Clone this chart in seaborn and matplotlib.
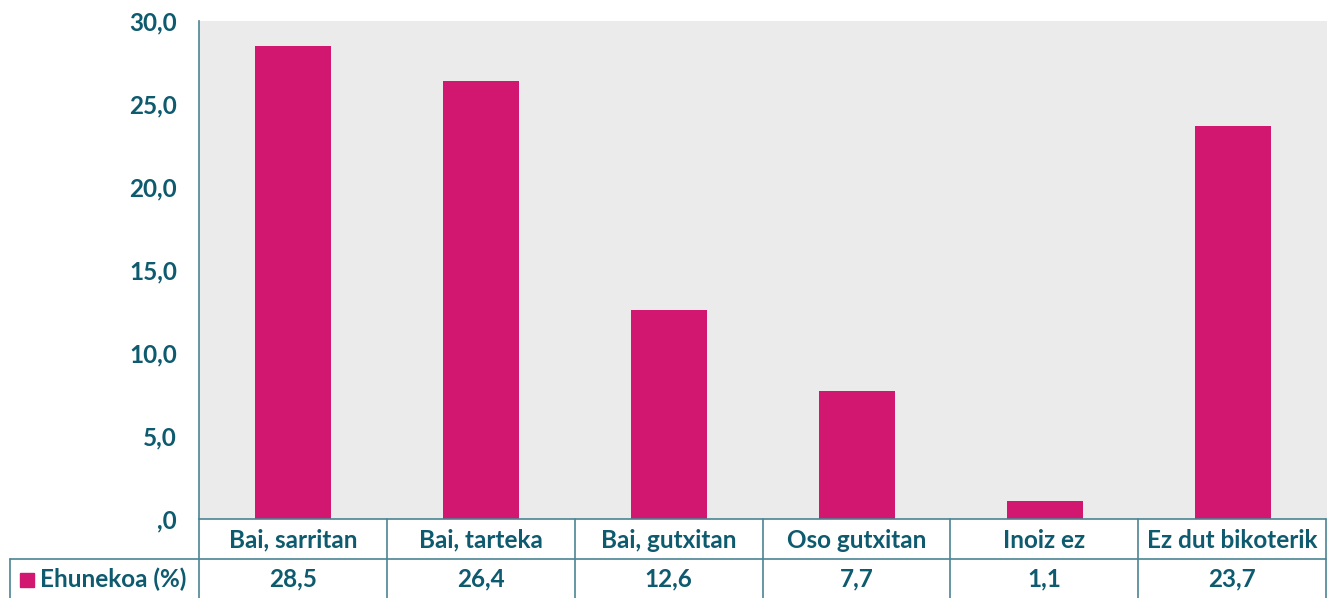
import numpy as np
import matplotlib.pyplot as plt
import seaborn as sns

categories = ['Bai, sarritan', 'Bai, tarteka', 'Bai, gutxitan', 'Oso gutxitan', 'Inoiz ez', 'Ez dut bikoterik']
values = [28.5, 26.4, 12.6, 7.7, 1.1, 23.7]
series_name = 'Ehunekoa (%)'
yticks = [0, 5, 10, 15, 20, 25, 30]

bar_col = '#D1176F'
txt_col = '#0E5A6E'
line_col = '#4A8593'

sns.set_style('white')
plt.rcParams['font.family'] = ['Lato', 'DejaVu Sans']
plt.rcParams['font.weight'] = 'bold'

W, H = 1327, 598
fs = 17.5
fig = plt.figure(figsize=(W / 100, H / 100), dpi=100)
ax = fig.add_axes([199 / W, 79 / H, 1 - 199 / W, (519 - 21) / H])
ax.set_facecolor('#EBEBEB')

sns.barplot(x=categories, y=values, color=bar_col, width=0.4, saturation=1, linewidth=0, ax=ax)
ax.set_xlim(-0.5, len(categories) - 0.5)
ax.set_ylim(0, 30)
ax.set_yticks(yticks)
ax.set_yticklabels([(f'{v:.1f}'.replace('.', ',')).lstrip('0') if v == 0 else f'{v:.1f}'.replace('.', ',') for v in yticks],
                   color=txt_col, fontsize=fs, fontweight='bold')
ax.tick_params(axis='y', length=0, pad=16)
ax.set_xticks([])
ax.set_xlabel('')
for s in ['top', 'right', 'bottom']:
    ax.spines[s].set_visible(False)
ax.spines['left'].set_color(line_col)
ax.spines['left'].set_linewidth(1.2)

# data table below the plot, drawn in figure pixel coords
def fx(px):
    return px / W

def fy(py):
    return 1 - py / H

x0, x1 = 199, 1326
cw = (x1 - x0) / len(categories)
lw = 1.2
fig.add_artist(plt.Line2D([fx(x0), fx(x1)], [fy(519), fy(519)], color=line_col, lw=lw))
fig.add_artist(plt.Line2D([fx(10), fx(x1)], [fy(559), fy(559)], color=line_col, lw=lw))
fig.add_artist(plt.Line2D([fx(10), fx(10)], [fy(559), fy(598)], color=line_col, lw=lw))
for i in range(len(categories) + 1):
    xp = x0 + i * cw
    fig.add_artist(plt.Line2D([fx(xp), fx(xp)], [fy(519), fy(598)], color=line_col, lw=lw))

for i, (c, v) in enumerate(zip(categories, values)):
    xc = x0 + (i + 0.5) * cw
    fig.text(fx(xc), fy(540), c, ha='center', va='center', color=txt_col, fontsize=fs, fontweight='bold')
    fig.text(fx(xc), fy(579), f'{v:.1f}'.replace('.', ','), ha='center', va='center',
             color=txt_col, fontsize=fs, fontweight='bold')

fig.patches.append(plt.Rectangle((fx(20), fy(587)), 14 / W, 14 / H, color=bar_col,
                                 transform=fig.transFigure, figure=fig))
fig.text(fx(40), fy(579), series_name, ha='left', va='center', color=txt_col, fontsize=fs, fontweight='bold')

fig.savefig('out.png', dpi=100)
